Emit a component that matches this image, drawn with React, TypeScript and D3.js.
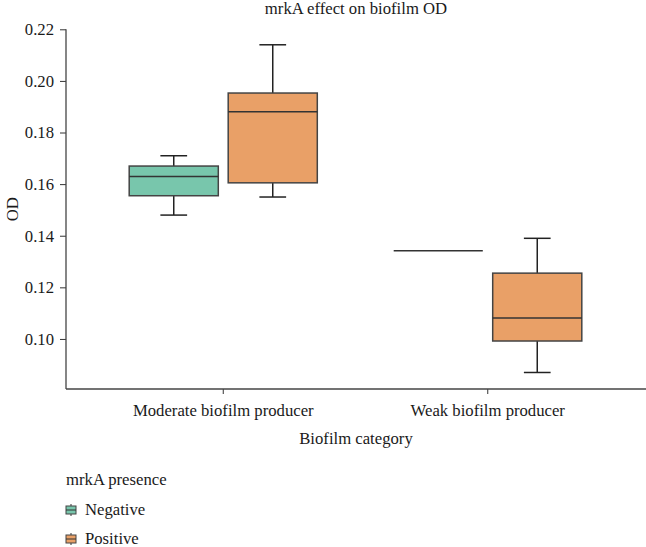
import { axisBottom, axisLeft, scaleBand, scaleLinear, select } from "d3";
import { useEffect, useRef } from "react";

const categories = ["Moderate biofilm producer", "Weak biofilm producer"];
const groups = ["Negative", "Positive"];
// [lower whisker, q1, median, q3, upper whisker] per category
const negativeStats = [
  [0.148, 0.1555, 0.163, 0.167, 0.171],
  [0.1342, 0.1342, 0.1342, 0.1342, 0.1342],
];
const positiveStats = [
  [0.155, 0.1605, 0.188, 0.1953, 0.214],
  [0.087, 0.0992, 0.1081, 0.1255, 0.139],
];
const yTicks = [0.1, 0.12, 0.14, 0.16, 0.18, 0.2, 0.22];
const colors = ["#78c6ac", "#e9a067"];

const FONT = "'Liberation Serif', 'Times New Roman', serif";
const FS = 16.7;

function App() {
  const svgRef = useRef(null);

  useEffect(() => {
    const svg = select(svgRef.current);
    svg.selectAll("*").remove();

    const width = 646;
    const height = 547;
    const left = 66;
    const right = 646;
    const top = 29.3;
    const bottom = 389;

    const xScale = scaleBand().domain(categories).range([91, 620]);
    const subScale = scaleBand()
      .domain(groups)
      .range([-99, 99])
      .paddingInner(0.1)
      .paddingOuter(0.05);
    const yScale = scaleLinear().domain([0.0806, 0.22]).range([bottom, top]);

    svg.attr("width", width).attr("height", height);

    // title
    svg
      .append("text")
      .attr("x", (left + right) / 2)
      .attr("y", 14)
      .attr("text-anchor", "middle")
      .attr("font-family", FONT)
      .attr("font-size", FS)
      .attr("fill", "#1a1a1a")
      .text("mrkA effect on biofilm OD");

    // y axis
    const yAxis: any = axisLeft(yScale)
      .tickValues(yTicks)
      .tickFormat((d: any) => d.toFixed(2))
      .tickSize(6)
      .tickPadding(6);
    const gy = svg.append("g").attr("transform", `translate(${left},0)`).call(yAxis);
    gy.select(".domain").remove();
    gy.selectAll("line").attr("stroke", "#333");
    gy.selectAll("text")
      .attr("font-family", FONT)
      .attr("font-size", FS)
      .attr("fill", "#1a1a1a");
    svg
      .append("line")
      .attr("x1", left)
      .attr("x2", left)
      .attr("y1", top)
      .attr("y2", bottom)
      .attr("stroke", "#444")
      .attr("stroke-width", 1.3);

    // x axis
    const xAxis: any = axisBottom(xScale).tickSize(5).tickPadding(10);
    const gx = svg.append("g").attr("transform", `translate(0,${bottom})`).call(xAxis);
    gx.select(".domain").remove();
    gx.selectAll("line").attr("stroke", "#333");
    gx.selectAll("text")
      .attr("font-family", FONT)
      .attr("font-size", FS)
      .attr("fill", "#1a1a1a");
    svg
      .append("line")
      .attr("x1", left)
      .attr("x2", right)
      .attr("y1", bottom)
      .attr("y2", bottom)
      .attr("stroke", "#444")
      .attr("stroke-width", 1.3);

    // axis titles
    svg
      .append("text")
      .attr("x", (left + right) / 2)
      .attr("y", 444)
      .attr("text-anchor", "middle")
      .attr("font-family", FONT)
      .attr("font-size", FS)
      .attr("fill", "#1a1a1a")
      .text("Biofilm category");
    svg
      .append("text")
      .attr("transform", `translate(18,${(top + bottom) / 2}) rotate(-90)`)
      .attr("text-anchor", "middle")
      .attr("font-family", FONT)
      .attr("font-size", FS)
      .attr("fill", "#1a1a1a")
      .text("OD");

    // boxes
    const allStats = [negativeStats, positiveStats];
    groups.forEach((group, gi) => {
      categories.forEach((cat, ci) => {
        const [lo, q1, med, q3, hi] = allStats[gi][ci];
        const cx = (xScale(cat) as number) + xScale.bandwidth() / 2;
        const x0 = cx + (subScale(group) as number);
        const bw = subScale.bandwidth();
        const mid = x0 + bw / 2;
        const capW = bw * 0.3;
        const g = svg.append("g");

        g.append("line")
          .attr("x1", mid)
          .attr("x2", mid)
          .attr("y1", yScale(hi))
          .attr("y2", yScale(q3))
          .attr("stroke", "#222")
          .attr("stroke-width", 1.5);
        g.append("line")
          .attr("x1", mid)
          .attr("x2", mid)
          .attr("y1", yScale(q1))
          .attr("y2", yScale(lo))
          .attr("stroke", "#222")
          .attr("stroke-width", 1.5);
        if (hi !== q3) {
          g.append("line")
            .attr("x1", mid - capW / 2)
            .attr("x2", mid + capW / 2)
            .attr("y1", yScale(hi))
            .attr("y2", yScale(hi))
            .attr("stroke", "#222")
            .attr("stroke-width", 1.5);
        }
        if (lo !== q1) {
          g.append("line")
            .attr("x1", mid - capW / 2)
            .attr("x2", mid + capW / 2)
            .attr("y1", yScale(lo))
            .attr("y2", yScale(lo))
            .attr("stroke", "#222")
            .attr("stroke-width", 1.5);
        }

        g.append("rect")
          .attr("x", x0)
          .attr("width", bw)
          .attr("y", yScale(q3))
          .attr("height", Math.max(0, yScale(q1) - yScale(q3)))
          .attr("fill", colors[gi])
          .attr("stroke", "#444")
          .attr("stroke-width", 1.5);
        g.append("line")
          .attr("x1", x0)
          .attr("x2", x0 + bw)
          .attr("y1", yScale(med))
          .attr("y2", yScale(med))
          .attr("stroke", "#333")
          .attr("stroke-width", 1.5);
      });
    });

    // legend
    svg
      .append("text")
      .attr("x", left)
      .attr("y", 485)
      .attr("font-family", FONT)
      .attr("font-size", FS)
      .attr("fill", "#1a1a1a")
      .text("mrkA presence");
    groups.forEach((group, gi) => {
      const y = 515 + gi * 29;
      const lg = svg.append("g");
      lg.append("line")
        .attr("x1", 71)
        .attr("x2", 71)
        .attr("y1", y - 11)
        .attr("y2", y + 1)
        .attr("stroke", "#333")
        .attr("stroke-width", 1);
      lg.append("rect")
        .attr("x", 66)
        .attr("y", y - 9)
        .attr("width", 10)
        .attr("height", 8)
        .attr("fill", colors[gi])
        .attr("stroke", "#444")
        .attr("stroke-width", 1);
      lg.append("line")
        .attr("x1", 66)
        .attr("x2", 76)
        .attr("y1", y - 5)
        .attr("y2", y - 5)
        .attr("stroke", "#333")
        .attr("stroke-width", 1);
      lg.append("text")
        .attr("x", 85)
        .attr("y", y)
        .attr("font-family", FONT)
        .attr("font-size", FS)
        .attr("fill", "#1a1a1a")
        .text(group);
    });
  }, []);

  return (
    <div style={{ position: "absolute", left: 0, top: 0 }}>
      <svg ref={svgRef}></svg>
    </div>
  );
}

export default App;
